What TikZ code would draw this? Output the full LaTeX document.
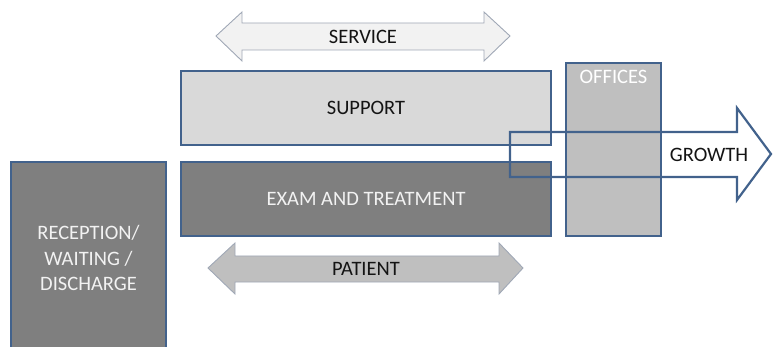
\documentclass[tikz,border=0pt]{standalone}
\usepackage{fontspec}
\setmainfont{Carlito}
\usetikzlibrary{positioning}

\definecolor{edgeblue}{RGB}{66,98,140}
\definecolor{lightfill}{RGB}{217,217,217}
\definecolor{darkfill}{RGB}{127,127,127}
\definecolor{midfill}{RGB}{191,191,191}
\definecolor{palefill}{RGB}{242,242,242}
\definecolor{arrowedge}{RGB}{160,168,182}
\definecolor{textdark}{RGB}{20,20,20}

\tikzset{
  zone/.style={draw=edgeblue, line width=2.2pt, inner sep=0pt, outer sep=0pt,
    font=\fontsize{20.5}{25.5}\selectfont, align=center},
  flowarrow/.style={draw=arrowedge, line width=0.9pt, line join=miter},
  label text/.style={font=\fontsize{20.5}{24}\selectfont, text=textdark}
}

\begin{document}
\begin{tikzpicture}[x=1pt,y=-1pt]
  \useasboundingbox (0,0) rectangle (773,347);

  % service and patient flows
  \draw[flowarrow, fill=palefill] (216,36) -- (242,12) -- (242,23) -- (484,23)
      -- (484,12) -- (510,36) -- (484,61) -- (484,50) -- (242,50) -- (242,61) -- cycle;
  \node[label text] (service) at (363,37) {SERVICE};

  \draw[flowarrow, fill=midfill] (208,268) -- (235,243) -- (235,256) -- (499,256)
      -- (499,243) -- (523,268) -- (499,294) -- (499,282) -- (235,282) -- (235,294) -- cycle;
  \node[label text] (patient) at (366,269) {PATIENT};

  % rooms
  \node[zone, fill=lightfill, text=textdark, minimum width=370pt, minimum height=74pt]
      (support) at (366,108) {SUPPORT};
  \node[zone, fill=darkfill, text=palefill, minimum width=370pt, minimum height=74pt]
      (exam) at (366,199) {EXAM AND TREATMENT};
  \node[zone, fill=darkfill, text=palefill, minimum width=155pt, minimum height=192pt]
      (reception) at (88.5,258) {RECEPTION/\\WAITING /\\DISCHARGE};
  \node[zone, fill=midfill, minimum width=95pt, minimum height=173pt]
      (offices) at (613.5,149.5) {};
  \node[label text, text=white, below=4pt of offices.north] (officeslabel) {OFFICES};

  % growth
  \draw[draw=edgeblue, line width=2.2pt, line join=miter]
      (510,132) -- (737,132) -- (737,108) -- (771,154) -- (737,200) -- (737,177)
      -- (510,177) -- cycle;
  \node[label text] (growth) at (709,155) {GROWTH};
\end{tikzpicture}
\end{document}
